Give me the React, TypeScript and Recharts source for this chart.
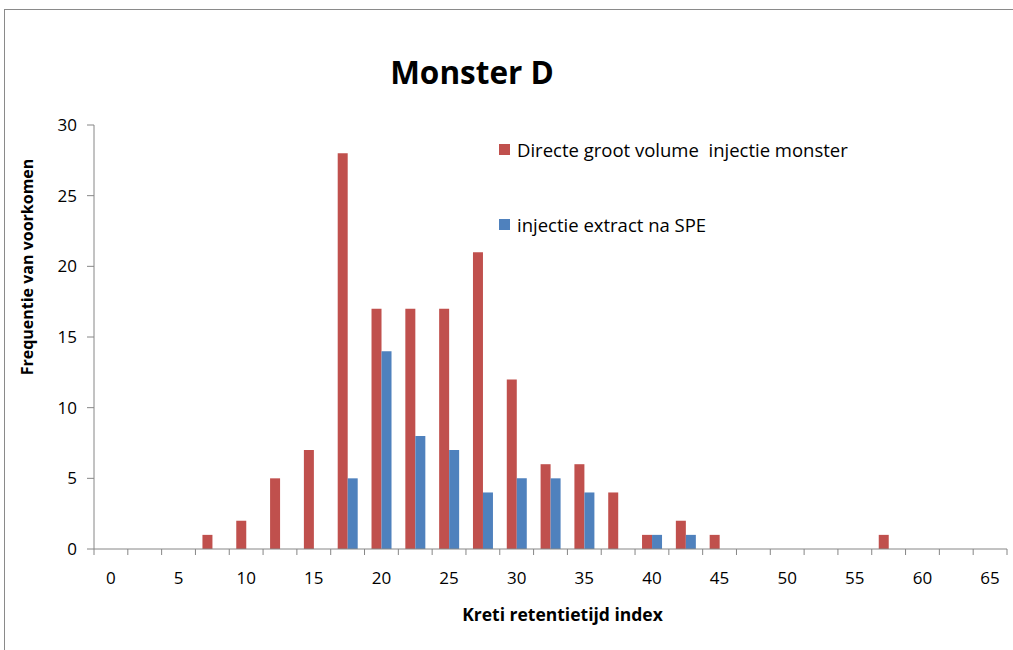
import { BarChart, Bar, XAxis, YAxis, Legend } from "recharts";

const categories = [
  0, 2.5, 5, 7.5, 10, 12.5, 15, 17.5, 20, 22.5, 25, 27.5, 30, 32.5, 35, 37.5, 40, 42.5, 45, 47.5,
  50, 52.5, 55, 57.5, 60, 62.5, 65,
];
const directeValues = [0, 0, 0, 1, 2, 5, 7, 28, 17, 17, 17, 21, 12, 6, 6, 4, 1, 2, 1, 0, 0, 0, 0, 1, 0, 0, 0];
const speValues = [0, 0, 0, 0, 0, 0, 0, 5, 14, 8, 7, 4, 5, 5, 4, 0, 1, 1, 0, 0, 0, 0, 0, 0, 0, 0, 0];
const yTicks = [0, 5, 10, 15, 20, 25, 30];

const SERIES = [
  { key: "directe", name: "Directe groot volume  injectie monster", color: "#C0504D" },
  { key: "spe", name: "injectie extract na SPE", color: "#4F81BD" },
];

const data = categories.map((c, i) => ({
  cat: c,
  directe: directeValues[i],
  spe: speValues[i],
}));

const FONT = "'Open Sans', sans-serif";
const AXIS = "#868686";
const W = 1010;
const H = 640;
const MARGIN = { top: 115, right: 8, bottom: 41, left: 29 };
const Y_W = 60;
const PLOT_W = W - MARGIN.left - Y_W - MARGIN.right;
const BAND = PLOT_W / categories.length;

// excel style: tick marks on category boundaries, label every other category
function XTick(props: any) {
  const { x, y, payload, index } = props;
  const left = x - BAND / 2;
  return (
    <g>
      <line x1={left} x2={left} y1={y} y2={y + 6} stroke={AXIS} />
      {index === categories.length - 1 && (
        <line x1={x + BAND / 2} x2={x + BAND / 2} y1={y} y2={y + 6} stroke={AXIS} />
      )}
      {index % 2 === 0 && (
        <text x={x} y={y + 35} textAnchor="middle" fontSize={17} fill="#000" fontFamily={FONT}>
          {payload.value}
        </text>
      )}
    </g>
  );
}

function LegendBox() {
  return (
    <div style={{ fontFamily: FONT, fontSize: 18.5, color: "#000" }}>
      {SERIES.map((s, i) => (
        <div
          key={s.key}
          style={{ display: "flex", alignItems: "center", height: 22, marginBottom: i === 0 ? 53 : 0 }}
        >
          <span style={{ width: 11, height: 11, background: s.color, marginRight: 7, display: "inline-block" }} />
          <span style={{ whiteSpace: "pre" }}>{s.name}</span>
        </div>
      ))}
    </div>
  );
}

export default function App() {
  return (
    <div
      style={{
        position: "absolute",
        left: 4,
        top: 9,
        width: W,
        height: H + 20,
        border: "1px solid #8a8a8a",
        background: "#fff",
      }}
    >
      <div
        style={{
          position: "absolute",
          left: 0,
          width: 934,
          top: 40,
          textAlign: "center",
          fontFamily: FONT,
          fontWeight: 700,
          fontSize: 31.5,
        }}
      >
        Monster D
      </div>
      <BarChart width={W} height={H} data={data} margin={MARGIN} barGap={0} barSize={10}>
        <XAxis
          dataKey="cat"
          interval={0}
          height={60}
          tickSize={0}
          tickMargin={0}
          stroke={AXIS}
          tick={<XTick />}
          label={{
            value: "Kreti retentietijd index",
            position: "center",
            dx: 12,
            dy: 36,
            fontFamily: FONT,
            fontWeight: 700,
            fontSize: 17.5,
            fill: "#000",
          }}
        />
        <YAxis
          width={Y_W}
          domain={[0, 30]}
          ticks={yTicks}
          interval={0}
          stroke={AXIS}
          tickSize={7}
          tickMargin={10}
          tick={{ fill: "#000", fontSize: 17, fontFamily: FONT }}
          label={{
            value: "Frequentie van voorkomen",
            angle: -90,
            position: "center",
            dx: -37,
            dy: -70,
            fontFamily: FONT,
            fontWeight: 700,
            fontSize: 16,
            fill: "#000",
          }}
        />
        <Legend
          layout="vertical"
          align="center"
          verticalAlign="middle"
          wrapperStyle={{ left: 494, top: 128, width: "auto" }}
          content={() => <LegendBox />}
        />
        {SERIES.map((s) => (
          <Bar key={s.key} dataKey={s.key} name={s.name} fill={s.color} isAnimationActive={false} />
        ))}
      </BarChart>
    </div>
  );
}
